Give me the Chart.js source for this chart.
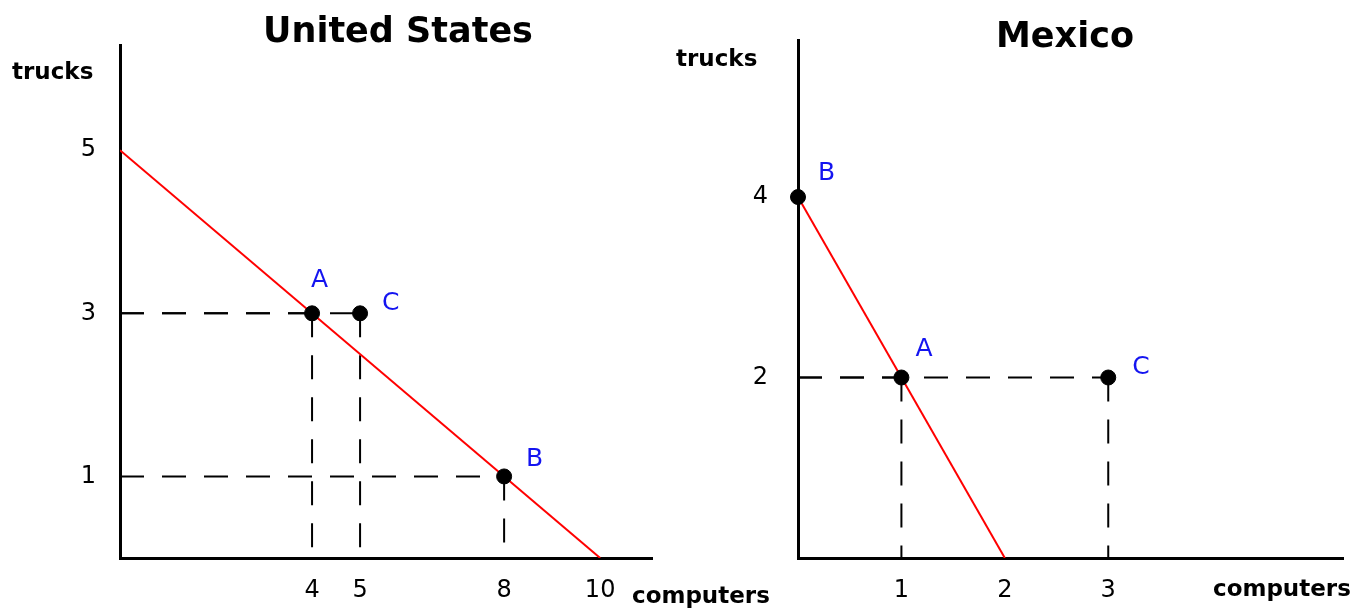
<!DOCTYPE html>
<html>
<head>
<meta charset="utf-8">
<script src="https://cdn.jsdelivr.net/npm/chart.js@4/dist/chart.umd.min.js"></script>
<style>
  body { margin: 0; background: #fff; }
  #wrap { position: relative; width: 1355px; height: 612px; }
  canvas { position: absolute; top: 0; }
</style>
</head>
<body>
<div id="wrap">
  <canvas id="us" width="800" height="612" style="left:0"></canvas>
  <canvas id="mx" width="685" height="612" style="left:670px"></canvas>
</div>
<script>
// United States
const usPoints = ['A', 'B', 'C'];
const usComputers = [4, 8, 5];
const usTrucks = [3, 1, 3];
const usLineComputers = [0, 10];   // PPF end points
const usLineTrucks = [5, 0];
const usXTicks = [4, 5, 8, 10];
const usYTicks = [1, 3, 5];

// Mexico
const mxPoints = ['A', 'B', 'C'];
const mxComputers = [1, 0, 3];
const mxTrucks = [2, 4, 2];
const mxLineComputers = [0, 2];
const mxLineTrucks = [4, 0];
const mxXTicks = [1, 2, 3];
const mxYTicks = [2, 4];

const FONT = "'DejaVu Sans', Verdana, sans-serif";

// writes the title, axis names and the A/B/C labels
const textPlugin = {
  id: 'texte',
  afterDatasetsDraw(chart, args, opts) {
    const c = chart.ctx;
    c.save();
    c.fillStyle = '#000';
    c.textBaseline = 'middle';
    c.textAlign = 'center';
    c.font = 'bold 35px ' + FONT;
    c.fillText(opts.title, opts.titleX, opts.titleY);
    c.textAlign = 'left';
    c.font = 'bold 23px ' + FONT;
    c.fillText('trucks', opts.yNameX, opts.yNameY);
    c.fillText('computers', opts.xNameX, opts.xNameY);
    // letras dos pontos
    const meta = chart.getDatasetMeta(0);
    c.fillStyle = '#1414f0';
    c.font = '25px ' + FONT;
    opts.names.forEach((n, i) => {
      const p = meta.data[i];
      const off = opts.offsets[n];
      c.fillText(n, p.x + off[0], p.y + off[1]);
    });
    c.restore();
  }
};

function guides(xs, ys) {
  // dashed lines from each point to both axes
  const out = [];
  xs.forEach((x, i) => {
    if (x === 0) return;
    out.push([{ x: 0, y: ys[i] }, { x: x, y: ys[i] }]);
    out.push([{ x: x, y: ys[i] }, { x: x, y: 0 }]);
  });
  return out;
}

function makeChart(id, d) {
  const pts = d.xs.map((x, i) => ({ x: x, y: d.ys[i] }));
  const line = d.lx.map((x, i) => ({ x: x, y: d.ly[i] }));
  const datasets = [
    { data: pts, showLine: false, pointRadius: 7.5, pointBackgroundColor: '#000', pointBorderColor: '#000', clip: false },
    { data: line, showLine: true, borderColor: '#ff0000', borderWidth: 2, pointRadius: 0 }
  ];
  guides(d.xs, d.ys).forEach(g => datasets.push({
    data: g, showLine: true, borderColor: '#000', borderWidth: 2, borderDash: [24, 18], pointRadius: 0
  }));

  return new Chart(document.getElementById(id), {
    type: 'scatter',
    data: { datasets: datasets },
    plugins: [textPlugin],
    options: {
      responsive: false,
      animation: false,
      layout: { padding: { top: d.top, right: d.right, left: 0, bottom: 0 } },
      plugins: {
        legend: { display: false },
        tooltip: { enabled: false },
        texte: d.text
      },
      scales: {
        x: {
          type: 'linear', min: 0, max: d.xMax,
          grid: { display: false },
          border: { display: true, color: '#000', width: 3 },
          afterBuildTicks: s => { s.ticks = d.xTicks.map(v => ({ value: v })); },
          afterFit: s => { s.height = 54; },
          ticks: { color: '#000', padding: 10, maxRotation: 0, font: { family: FONT, size: 24 } }
        },
        y: {
          type: 'linear', min: 0, max: d.yMax,
          grid: { display: false },
          border: { display: true, color: '#000', width: 3 },
          afterBuildTicks: s => { s.ticks = d.yTicks.map(v => ({ value: v })); },
          afterFit: s => { s.width = d.yWidth; },
          ticks: { color: '#000', padding: d.yPad, font: { family: FONT, size: 24 } }
        }
      }
    }
  });
}

makeChart('us', {
  xs: usComputers, ys: usTrucks, lx: usLineComputers, ly: usLineTrucks,
  xTicks: usXTicks, yTicks: usYTicks, xMax: 11.08, yMax: 6.29,
  top: 45, right: 148, yWidth: 120, yPad: 16,
  text: {
    title: 'United States', titleX: 398, titleY: 33,
    yNameX: 12, yNameY: 73, xNameX: 632, xNameY: 597,
    names: usPoints,
    offsets: { A: [-1, -33], B: [22, -17], C: [22, -10] }
  }
});

makeChart('mx', {
  xs: mxComputers, ys: mxTrucks, lx: mxLineComputers, ly: mxLineTrucks,
  xTicks: mxXTicks, yTicks: mxYTicks, xMax: 5.27, yMax: 5.74,
  top: 40, right: 12, yWidth: 128, yPad: 22,
  text: {
    title: 'Mexico', titleX: 395, titleY: 38,
    yNameX: 6, yNameY: 60, xNameX: 543, xNameY: 590,
    names: mxPoints,
    offsets: { A: [14, -28], B: [20, -24], C: [24, -10] }
  }
});
</script>
</body>
</html>
